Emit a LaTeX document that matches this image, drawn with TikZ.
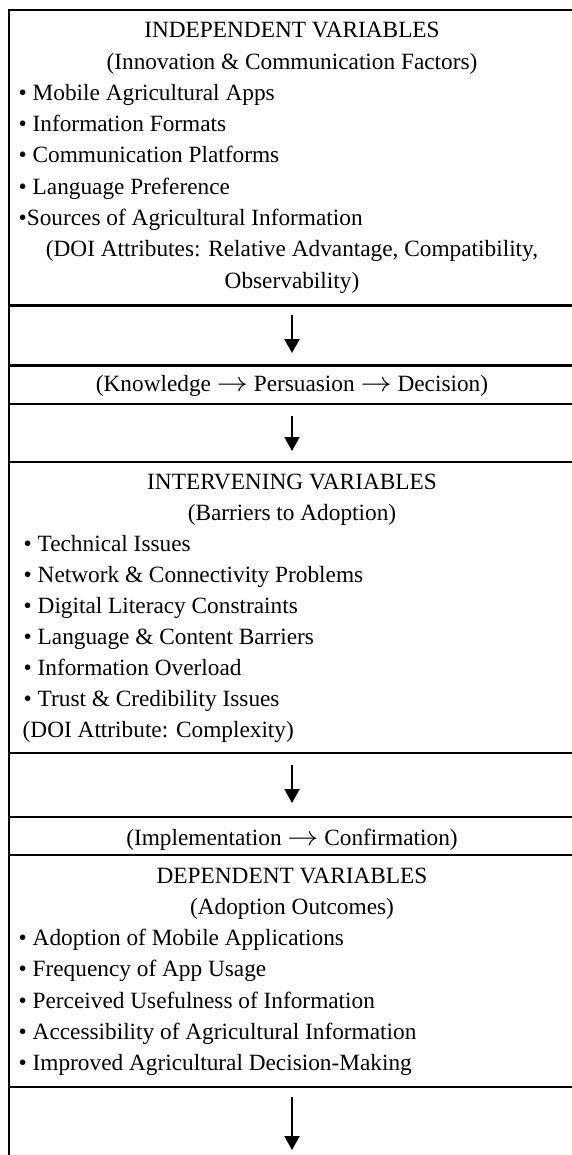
\documentclass[tikz,border=0pt]{standalone}
\usepackage{fontspec}
\setmainfont{Liberation Serif}
\usetikzlibrary{arrows.meta}
% thin arrow between adoption stages
\newcommand{\stagearrow}{ \scalebox{1.25}[1.1]{$\rightarrow$} }
\begin{document}
\begin{tikzpicture}[x=1pt,y=-1pt,
  rule/.style={line width=2.6pt},
  flowarrow/.style={line width=2pt,-{Triangle[width=15pt,length=14pt]}},
  txt/.style={anchor=base west,inner sep=0pt,font=\fontsize{23.3}{28}\selectfont},
  ctr/.style={anchor=base,inner sep=0pt,font=\fontsize{23.3}{28}\selectfont}]
\useasboundingbox (0,0) rectangle (571,1155);

% outer frame (open to the right and bottom of the page)
\draw[rule] (9,10) -- (600,10);
\draw[rule] (9,8.7) -- (9,1170);

% row separators
\foreach \y in {305.5,365.7,404,462,753,817,855,1087}
  \draw[rule] (9,\y) -- (600,\y);

% independent variables
\node[ctr] (ivh) at (292,38) {INDEPENDENT VARIABLES};
\node[ctr] (ivs) at (292,69.25) {(Innovation \& Communication Factors)};
\node[txt] (iv1) at (18.5,100.5) {• Mobile Agricultural Apps};
\node[txt] (iv2) at (18.5,131.75) {• Information Formats};
\node[txt] (iv3) at (18.5,163) {• Communication Platforms};
\node[txt] (iv4) at (18.5,194.25) {• Language Preference};
\node[txt] (iv5) at (18.5,225.5) {•Sources of Agricultural Information};
\node[ctr] (iva) at (292,256.75) {(DOI Attributes: Relative Advantage, Compatibility,};
\node[ctr] (ivb) at (292,288) {Observability)};

% first transition
\coordinate (a1s) at (292,315);
\coordinate (a1e) at (292,353);
\draw[flowarrow] (a1s) -- (a1e);
\node[ctr] (stage1) at (292,391) {(Knowledge\stagearrow Persuasion\stagearrow Decision)};
\coordinate (a2s) at (292,416);
\coordinate (a2e) at (292,451);
\draw[flowarrow] (a2s) -- (a2e);

% intervening variables
\node[ctr] (mvh) at (292,489) {INTERVENING VARIABLES};
\node[ctr] (mvs) at (292,520) {(Barriers to Adoption)};
\node[txt] (mv1) at (23.5,551) {• Technical Issues};
\node[txt] (mv2) at (23.5,582) {• Network \& Connectivity Problems};
\node[txt] (mv3) at (23.5,613) {• Digital Literacy Constraints};
\node[txt] (mv4) at (23.5,644) {• Language \& Content Barriers};
\node[txt] (mv5) at (23.5,675) {• Information Overload};
\node[txt] (mv6) at (23.5,706) {• Trust \& Credibility Issues};
\node[txt] (mva) at (22.5,737) {(DOI Attribute: Complexity)};

% second transition
\coordinate (a3s) at (292,765);
\coordinate (a3e) at (292,803);
\draw[flowarrow] (a3s) -- (a3e);
\node[ctr] (stage2) at (292,845) {(Implementation\stagearrow Confirmation)};

% dependent variables
\node[ctr] (dvh) at (292,883) {DEPENDENT VARIABLES};
\node[ctr] (dvs) at (292,914.3) {(Adoption Outcomes)};
\node[txt] (dv1) at (18.5,945.6) {• Adoption of Mobile Applications};
\node[txt] (dv2) at (18.5,976.9) {• Frequency of App Usage};
\node[txt] (dv3) at (18.5,1008.2) {• Perceived Usefulness of Information};
\node[txt] (dv4) at (18.5,1039.5) {• Accessibility of Agricultural Information};
\node[txt] (dv5) at (18.5,1070.8) {• Improved Agricultural Decision-Making};

% outgoing arrow
\coordinate (a4s) at (292,1097);
\coordinate (a4e) at (292,1150);
\draw[flowarrow] (a4s) -- (a4e);
\end{tikzpicture}
\end{document}
